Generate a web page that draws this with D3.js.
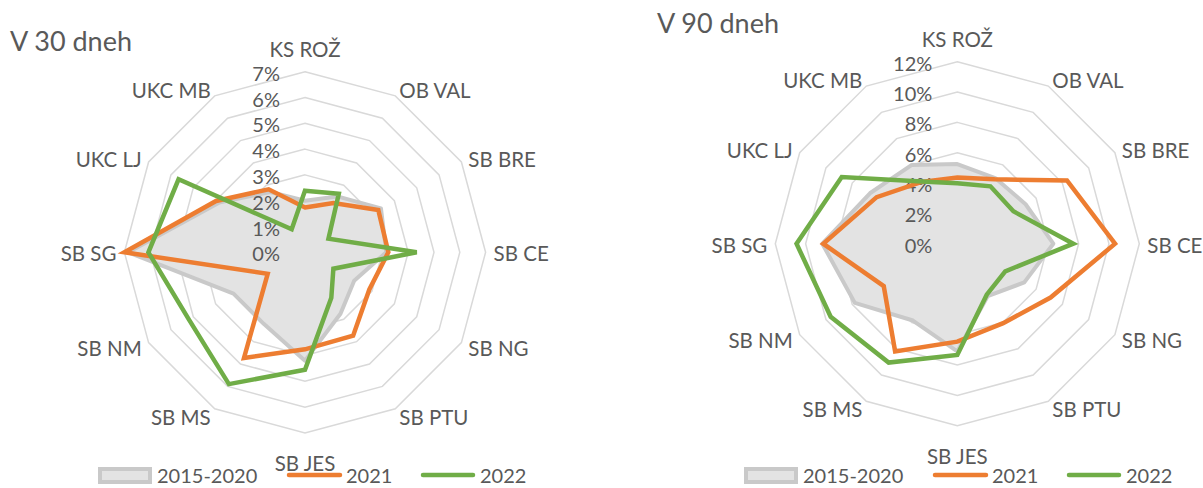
<!DOCTYPE html>
<html><head><meta charset="utf-8">
<script src="https://cdn.jsdelivr.net/npm/d3@7"></script>
<style>
html,body{margin:0;padding:0;background:#fff;}
svg{display:block;font-family:Lato,"Open Sans",sans-serif;}
</style></head>
<body>
<svg id="chart" width="1203" height="488"></svg>
<script>
// ---------- data ----------
const categories = ["KS ROŽ","OB VAL","SB BRE","SB CE","SB NG","SB PTU","SB JES","SB MS","SB NM","SB SG","UKC LJ","UKC MB"];
const seriesNames = ["2015-2020","2021","2022"];

// V 30 dneh (percent)
const d30_2015_2020 = [2.0, 2.5, 3.4, 3.15, 2.2, 2.75, 4.2, 3.2, 3.2, 6.85, 3.85, 2.7];
const d30_2021      = [1.74, 2.2, 3.28, 3.23, 2.88, 3.73, 3.76, 4.73, 1.67, 7.0, 3.98, 2.82];
const d30_2022      = [2.39, 2.62, 1.05, 4.33, 1.27, 2.04, 4.55, 5.9, 5.2, 6.07, 5.66, 1.03];
const ticks30 = [0,1,2,3,4,5,6,7];
const tickLabels30 = ["0%","1%","2%","3%","4%","5%","6%","7%"];

// V 90 dneh (percent)
const d90_2015_2020 = [5.25, 5.0, 5.2, 6.33, 5.1, 4.0, 7.1, 5.85, 7.8, 8.9, 6.65, 6.0];
const d90_2021      = [4.37, 4.9, 8.35, 10.4, 7.1, 6.05, 6.46, 8.2, 5.6, 8.84, 6.14, 4.7];
const d90_2022      = [3.98, 4.37, 4.27, 7.65, 3.65, 3.88, 7.34, 9.05, 9.64, 10.6, 8.8, 4.73];
const ticks90 = [0,2,4,6,8,10,12];
const tickLabels90 = ["0%","2%","4%","6%","8%","10%","12%"];

const titles = ["V 30 dneh","V 90 dneh"];

// ---------- styles ----------
const TEXT = "#595959";
const GRID = "#d9d9d9";
const colors = {fill:"#e3e3e3", border:"#c9c9c9", o:"#ED7D31", g:"#70AD47"};

const svg = d3.select("#chart");

function radar(cfg){
  const g = svg.append("g").attr("transform",`translate(${cfg.cx},${cfg.cy})`);
  const r = d3.scaleLinear().domain([0, d3.max(cfg.ticks)]).range([0, cfg.R]);
  const n = categories.length;
  const ang = i => i * 2*Math.PI/n;
  const line = d3.lineRadial().angle((d,i)=>ang(i)).radius(d=>r(d)).curve(d3.curveLinearClosed);

  // grid rings
  cfg.ticks.filter(t=>t>0).forEach(t=>{
    g.append("path").attr("d", line(categories.map(()=>t)))
      .attr("fill","none").attr("stroke",GRID).attr("stroke-width",1.5);
  });

  // filled series
  g.append("path").attr("d", line(cfg.s0))
    .attr("fill",colors.fill).attr("stroke",colors.border).attr("stroke-width",4)
    .attr("stroke-linejoin","round");

  // tick labels
  cfg.ticks.forEach((t,i)=>{
    g.append("text").attr("x",-25).attr("y",-r(t)+1)
      .attr("text-anchor","end").attr("dominant-baseline","central")
      .attr("font-size",20).attr("fill",TEXT).text(cfg.tickLabels[i]);
  });

  // line series
  g.append("path").attr("d", line(cfg.s1))
    .attr("fill","none").attr("stroke",colors.o).attr("stroke-width",4.5).attr("stroke-linejoin","miter");
  g.append("path").attr("d", line(cfg.s2))
    .attr("fill","none").attr("stroke",colors.g).attr("stroke-width",4.5).attr("stroke-linejoin","miter");

  // category labels
  categories.forEach((c,i)=>{
    const a = ang(i);
    const rl = cfg.R + 8;
    let x = Math.sin(a)*rl, y = -Math.cos(a)*rl;
    let anchor = "middle";
    if (Math.sin(a) > 0.1) anchor = "start";
    else if (Math.sin(a) < -0.1) anchor = "end";
    if (Math.abs(Math.cos(a))>0.99) y += Math.cos(a)>0 ? -16 : 21;
    g.append("text").attr("x",x).attr("y",y+1)
      .attr("text-anchor",anchor).attr("dominant-baseline","central")
      .attr("font-size",20.5).attr("fill",TEXT).text(c);
  });

  // title
  svg.append("text").attr("x",cfg.tx).attr("y",cfg.ty)
    .attr("font-size",27).attr("fill",TEXT).text(cfg.title);

  // legend
  const lg = svg.append("g").attr("transform",`translate(${cfg.lx},${cfg.ly})`);
  lg.append("rect").attr("x",2).attr("y",-6).attr("width",50).attr("height",13)
    .attr("fill",colors.fill).attr("stroke",colors.border).attr("stroke-width",4);
  lg.append("text").attr("x",59).attr("y",0).attr("dominant-baseline","central")
    .attr("font-size",20).attr("fill",TEXT).text(seriesNames[0]);
  lg.append("line").attr("x1",191).attr("x2",242).attr("y1",0).attr("y2",0)
    .attr("stroke",colors.o).attr("stroke-width",4.5).attr("stroke-linecap","round");
  lg.append("text").attr("x",248).attr("y",0).attr("dominant-baseline","central")
    .attr("font-size",20).attr("fill",TEXT).text(seriesNames[1]);
  lg.append("line").attr("x1",325).attr("x2",375).attr("y1",0).attr("y2",0)
    .attr("stroke",colors.g).attr("stroke-width",4.5).attr("stroke-linecap","round");
  lg.append("text").attr("x",382).attr("y",0).attr("dominant-baseline","central")
    .attr("font-size",20).attr("fill",TEXT).text(seriesNames[2]);
}

radar({cx:305, cy:252.3, R:180.6, ticks:ticks30, tickLabels:tickLabels30,
  s0:d30_2015_2020, s1:d30_2021, s2:d30_2022, title:titles[0], tx:10, ty:51, lx:98, ly:475});
radar({cx:957.3, cy:243.7, R:182, ticks:ticks90, tickLabels:tickLabels90,
  s0:d90_2015_2020, s1:d90_2021, s2:d90_2022, title:titles[1], tx:657, ty:33, lx:744, ly:475});
</script>
</body></html>
